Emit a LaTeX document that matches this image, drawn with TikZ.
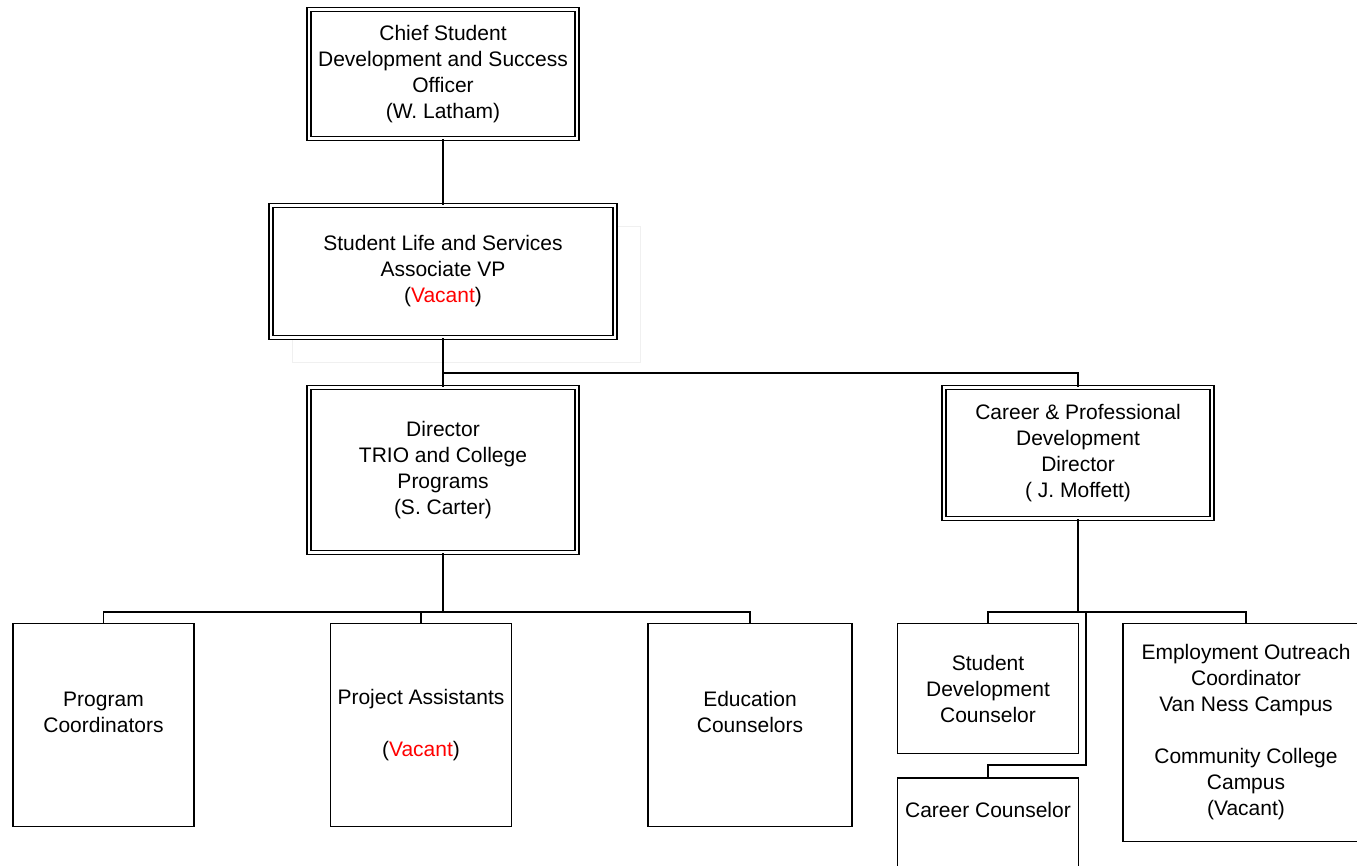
\documentclass[tikz,border=0pt]{standalone}
\usepackage{fontspec}
\setmainfont{Liberation Sans}
\usetikzlibrary{positioning}

\definecolor{vacant}{RGB}{255,0,0}
\tikzset{
   orgtext/.style={align=center, font=\fontsize{21}{26}\selectfont, inner sep=0pt},
   headbox/.style={orgtext, draw, fill=white, double, double distance=2.4pt, line width=1.5pt},
   unitbox/.style={orgtext, draw, fill=white, line width=1.5pt},
   link/.style={line width=1.5pt}
}

\begin{document}
\begin{tikzpicture}[x=1pt,y=-1pt]
   \useasboundingbox (0,0) rectangle (1357,866);
   \clip (0,0) rectangle (1357,866);

   % faint frame behind the VP box
   \draw[black!6, line width=1pt] (292,227) rectangle (640,363);

   \node[headbox, minimum width=268, minimum height=129] (chief) at (443,74)
      {Chief Student\\Development and Success\\Officer\\(W. Latham)};
   \node[headbox, minimum width=344, minimum height=132] (slsvp) at (443,271.5)
      {Student Life and Services\\Associate VP\\(\textcolor{vacant}{Vacant})};
   \node[headbox, minimum width=268, minimum height=165] (trio) at (443,470)
      {Director\\TRIO and College\\Programs\\(S. Carter)};
   \node[headbox, minimum width=268, minimum height=131] (cpd) at (1078,453)
      {Career \& Professional\\Development\\Director\\( J. Moffett)};

   \node[unitbox, minimum width=181, minimum height=203] (pc) at (103.5,725)
      {Program\\Coordinators\\~};
   \node[unitbox, minimum width=181, minimum height=203] (pa) at (421,725)
      {Project Assistants\\~\\(\textcolor{vacant}{Vacant})};
   \node[unitbox, minimum width=204, minimum height=203] (ec) at (750,725)
      {Education\\Counselors\\~};

   \node[unitbox, minimum width=181, minimum height=130] (sdc) at (988,688.5)
      {Student\\Development\\Counselor};
   \node[unitbox, minimum width=181, minimum height=140, anchor=north] (cc) at (988,777) {};
   \node[orgtext] (cctext) at (988,810) {Career Counselor};
   \node[unitbox, minimum width=246, minimum height=218] (eoc) at (1246,732.5)
      {Employment Outreach\\Coordinator\\Van Ness Campus\\~\\Community College\\Campus\\(Vacant)};

   \coordinate (j1) at (443,373);
   \coordinate (j2) at (443,612);
   \coordinate (j3) at (1078,612);
   \coordinate (j4) at (1086,765);

   \draw[link] (chief) -- (slsvp);
   \draw[link] (slsvp.south) -- (trio.north);
   \draw[link] (j1) -| (cpd.north);
   \draw[link] (trio.south) -- (j2);
   \draw[link] (pc.north) |- (j2) -| (ec.north);
   \draw[link] (pa.north) -- (pa.north |- j2);
   \draw[link] (cpd.south) -- (j3);
   \draw[link] (sdc.north) |- (j3) -| (eoc.north);
   \draw[link] (j4 |- j3) -- (j4) -| (cc.north);

\end{tikzpicture}
\end{document}
